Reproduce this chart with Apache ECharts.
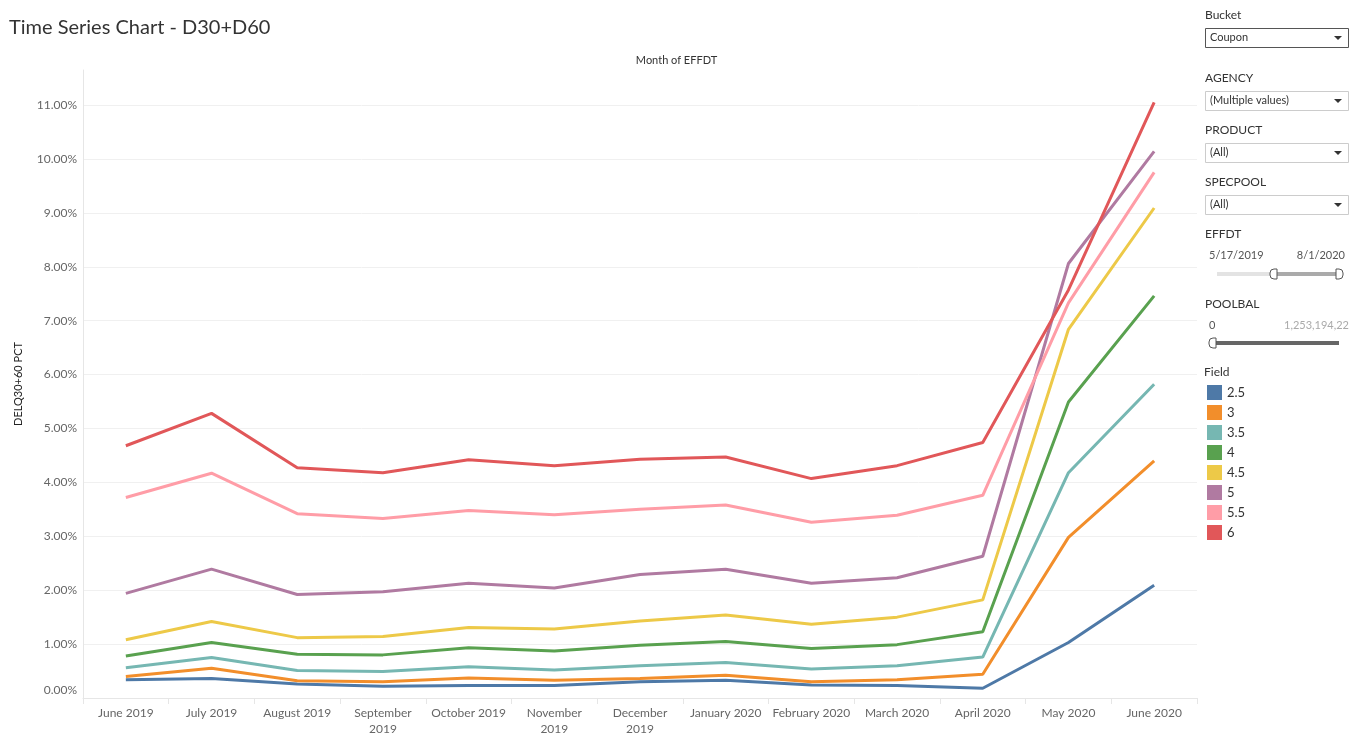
<!DOCTYPE html>
<html>
<head>
<meta charset="utf-8">
<script src="https://cdn.jsdelivr.net/npm/echarts@6/dist/echarts.min.js"></script>
<style>
  html, body { margin: 0; padding: 0; background: #fff; }
  #chart { width: 1353px; height: 756px; }
</style>
</head>
<body>
<div id="chart"></div>
<script>
// months along the x axis
var months = ['June 2019', 'July 2019', 'August 2019', 'September\n2019', 'October 2019',
  'November\n2019', 'December\n2019', 'January 2020', 'February 2020', 'March 2020',
  'April 2020', 'May 2020', 'June 2020'];

// DELQ30+60 PCT per coupon (in %)
var fields = ['2.5', '3', '3.5', '4', '4.5', '5', '5.5', '6'];
var s25 = [0.34, 0.36, 0.26, 0.22, 0.23, 0.23, 0.30, 0.33, 0.24, 0.23, 0.18, 1.03, 2.09];
var s3  = [0.40, 0.55, 0.32, 0.30, 0.37, 0.33, 0.36, 0.42, 0.30, 0.34, 0.44, 2.98, 4.40];
var s35 = [0.56, 0.75, 0.51, 0.49, 0.58, 0.52, 0.60, 0.66, 0.54, 0.60, 0.76, 4.18, 5.82];
var s4  = [0.78, 1.03, 0.81, 0.80, 0.93, 0.87, 0.98, 1.05, 0.92, 0.99, 1.23, 5.49, 7.46];
var s45 = [1.08, 1.42, 1.12, 1.14, 1.31, 1.28, 1.43, 1.54, 1.37, 1.50, 1.82, 6.84, 9.09];
var s5  = [1.94, 2.39, 1.92, 1.97, 2.13, 2.04, 2.29, 2.39, 2.13, 2.23, 2.63, 8.06, 10.14];
var s55 = [3.72, 4.17, 3.42, 3.33, 3.48, 3.40, 3.50, 3.58, 3.26, 3.39, 3.76, 7.33, 9.75];
var s6  = [4.68, 5.28, 4.27, 4.18, 4.42, 4.31, 4.43, 4.47, 4.07, 4.31, 4.74, 7.57, 11.05];
var seriesData = [s25, s3, s35, s4, s45, s5, s55, s6];
var colors = ['#4e79a7', '#f28e2b', '#76b7b2', '#59a14f', '#edc948', '#b07aa1', '#ff9da7', '#e15759'];

var FONT = 'Lato, "Open Sans", sans-serif';
var chart = echarts.init(document.getElementById('chart'));

// filter cards on the right, like the tableau dashboard
var panel = [];
function label(x, y, text, opt) {
  opt = opt || {};
  panel.push({
    type: 'text', left: x, top: y,
    style: {
      text: text, fill: opt.color || '#333', font: (opt.size || 12) + 'px ' + FONT,
      align: opt.align || 'left'
    }
  });
}
function dropdown(y, text, dark) {
  panel.push({
    type: 'rect', shape: { x: 1205.5, y: y + 0.5, width: 143, height: 19 },
    style: { fill: '#fff', stroke: dark ? '#555' : '#ccc', lineWidth: 1 }
  });
  panel.push({
    type: 'text', x: 1210, y: y + 4,
    style: { text: text, fill: '#333', font: '11px ' + FONT }
  });
  panel.push({
    type: 'polygon', shape: { points: [[1334, y + 8], [1342, y + 8], [1338, y + 12]] },
    style: { fill: '#333' }
  });
}
label(1205, 9, 'Bucket');
dropdown(28, 'Coupon', true);
label(1205, 72, 'AGENCY');
dropdown(91, '(Multiple values)', false);
label(1205, 124, 'PRODUCT');
dropdown(143, '(All)', false);
label(1205, 176, 'SPECPOOL');
dropdown(195, '(All)', false);
label(1205, 228, 'EFFDT');
panel.push({ type: 'text', x: 1209, y: 250, style: { text: '5/17/2019', fill: '#555', font: '11px ' + FONT } });
panel.push({ type: 'text', x: 1345, y: 250, style: { text: '8/1/2020', fill: '#555', font: '11px ' + FONT, align: 'right' } });
panel.push({ type: 'line', shape: { x1: 1217, y1: 274, x2: 1273, y2: 274 }, style: { stroke: '#e3e3e3', lineWidth: 4 } });
panel.push({ type: 'line', shape: { x1: 1273, y1: 274, x2: 1338, y2: 274 }, style: { stroke: '#aaa', lineWidth: 4 } });
panel.push({ type: 'rect', shape: { x: 1270, y: 269, width: 7, height: 10, r: [4, 0, 0, 4] }, style: { fill: '#fff', stroke: '#555' } });
panel.push({ type: 'rect', shape: { x: 1336, y: 269, width: 7, height: 10, r: [0, 4, 4, 0] }, style: { fill: '#fff', stroke: '#555' } });
label(1205, 298, 'POOLBAL');
panel.push({ type: 'text', x: 1209, y: 320, style: { text: '0', fill: '#555', font: '11px ' + FONT } });
panel.push({ type: 'text', x: 1349, y: 320, style: { text: '1,253,194,22', fill: '#aaa', font: '11px ' + FONT, align: 'right' } });
panel.push({ type: 'line', shape: { x1: 1212, y1: 343, x2: 1339, y2: 343 }, style: { stroke: '#666', lineWidth: 4 } });
panel.push({ type: 'rect', shape: { x: 1209, y: 338, width: 7, height: 10, r: [4, 0, 0, 4] }, style: { fill: '#fff', stroke: '#555' } });
label(1204, 366, 'Field');
panel.push({
  type: 'text', left: 'center', top: 55,
  style: { text: 'Month of EFFDT', fill: '#333', font: '11px ' + FONT }
});

var series = fields.map(function (f, i) {
  return {
    name: f,
    type: 'line',
    data: seriesData[i],
    symbol: 'none',
    smooth: false,
    lineStyle: { width: 3, color: colors[i] },
    itemStyle: { color: colors[i] },
    z: 2 + i
  };
});

var gridColors = [];
for (var k = 0; k < 12; k++) gridColors.push('#f0f0f0');
gridColors.push('rgba(0,0,0,0)');

var option = {
  animation: false,
  color: colors,
  title: {
    text: 'Time Series Chart - D30+D60',
    left: 4, top: 13,
    textStyle: { fontFamily: FONT, fontSize: 20, fontWeight: 'normal', color: '#333' }
  },
  legend: {
    data: fields,
    orient: 'vertical',
    left: 1202, top: 380,
    icon: 'rect',
    itemWidth: 15, itemHeight: 15, itemGap: 5,
    selectedMode: false,
    textStyle: { fontFamily: FONT, fontSize: 13, color: '#333' }
  },
  grid: { left: 83, right: 156, top: 70, bottom: 58 },
  xAxis: {
    type: 'category',
    data: months,
    boundaryGap: true,
    axisLine: { lineStyle: { color: '#e6e6e6' } },
    axisTick: { show: true, length: 6, lineStyle: { color: '#e6e6e6' } },
    axisLabel: { color: '#666', fontFamily: FONT, fontSize: 12, margin: 7, lineHeight: 16, interval: 0 },
    splitLine: { show: false }
  },
  yAxis: {
    type: 'value',
    min: 0, max: 11.65, interval: 1,
    name: 'DELQ30+60 PCT',
    nameLocation: 'middle',
    nameGap: 59,
    nameTextStyle: { fontFamily: FONT, fontSize: 11, color: '#222' },
    axisLine: { show: true, lineStyle: { color: '#e6e6e6' } },
    axisTick: { show: false },
    axisLabel: {
      color: '#666', fontFamily: FONT, fontSize: 12, margin: 6,
      showMaxLabel: false,
      formatter: function (v) {
        if (Math.abs(v - Math.round(v)) > 1e-6) return '';
        if (v === 0) return '{z|0.00%}';
        return v.toFixed(2) + '%';
      },
      rich: { z: { color: '#666', fontFamily: FONT, fontSize: 12, padding: [0, 0, 16, 0] } }
    },
    splitLine: { show: true, lineStyle: { color: gridColors, width: 1 } }
  },
  graphic: panel,
  series: series
};

chart.setOption(option);
</script>
</body>
</html>
